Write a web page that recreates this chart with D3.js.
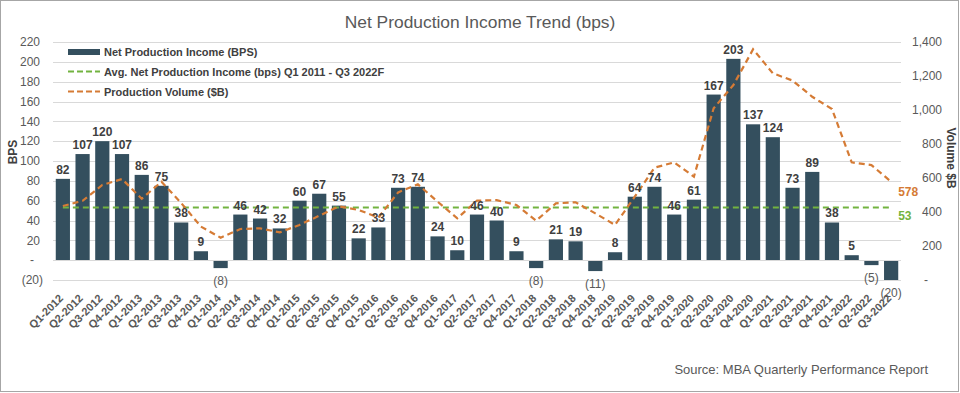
<!DOCTYPE html>
<html><head><meta charset="utf-8">
<script src="https://cdn.jsdelivr.net/npm/d3@7/dist/d3.min.js"></script>
<style>body{margin:0;background:#fff;}svg{display:block;font-family:Arial,"Liberation Sans",sans-serif;}</style>
</head><body><svg id="c" width="960" height="393"></svg>
<script>
const quarters = ["Q1-2012","Q2-2012","Q3-2012","Q4-2012","Q1-2013","Q2-2013","Q3-2013","Q4-2013","Q1-2014","Q2-2014","Q3-2014","Q4-2014","Q1-2015","Q2-2015","Q3-2015","Q4-2015","Q1-2016","Q2-2016","Q3-2016","Q4-2016","Q1-2017","Q2-2017","Q3-2017","Q4-2017","Q1-2018","Q2-2018","Q3-2018","Q4-2018","Q1-2019","Q2-2019","Q3-2019","Q4-2019","Q1-2020","Q2-2020","Q3-2020","Q4-2020","Q1-2021","Q2-2021","Q3-2021","Q4-2021","Q1-2022","Q2-2022","Q3-2022"];
const netIncome = [82,107,120,107,86,75,38,9,-8,46,42,32,60,67,55,22,33,73,74,24,10,46,40,9,-8,21,19,-11,8,64,74,46,61,167,203,137,124,73,89,38,5,-5,-20];
const volume = [435,466,559,594,478,578,453,314,249,300,304,280,324,378,433,412,367,515,563,461,363,467,470,441,349,451,457,392,324,490,661,692,608,1010,1147,1357,1216,1173,1078,1006,692,676,578];
const avgIncome = 53;
const leftTicks = [-20,0,20,40,60,80,100,120,140,160,180,200,220];
const rightTicks = [0,200,400,600,800,1000,1200,1400];
const legendLabels = ["Net Production Income (BPS)","Avg. Net Production Income (bps) Q1 2011 - Q3 2022F","Production Volume ($B)"];
const titleText = "Net Production Income Trend (bps)";
const sourceText = "Source: MBA Quarterly Performance Report";

const svg = d3.select("#c");
const barColor = "#344f5e", orange = "#d57b35", green = "#72b340", txt = "#404040", tick = "#595959";
svg.append("rect").attr("x",0.5).attr("y",0.5).attr("width",958).attr("height",391).attr("fill","#fff").attr("stroke","#a6a6a6");

const x = d3.scaleBand().domain(quarters).range([53,901]).paddingInner(0.28).paddingOuter(0.14);
const yL = d3.scaleLinear().domain([-20,220]).range([280,42]);
const yR = d3.scaleLinear().domain([0,1400]).range([280,42]);
const cx = d => x(d) + x.bandwidth()/2;

// gridlines
svg.append("g").selectAll("line").data(leftTicks).join("line")
  .attr("x1",53).attr("x2",901).attr("y1",d=>Math.round(yL(d))+0.5).attr("y2",d=>Math.round(yL(d))+0.5)
  .attr("stroke","#d9d9d9").attr("stroke-width",1);

// left axis
const fmtL = d => d===0 ? "-" : d<0 ? "("+(-d)+")" : String(d);
svg.append("g").selectAll("text").data(leftTicks).join("text")
  .attr("x",d=> d===0?34:(d<0?43:40)).attr("y",d=>yL(d)).attr("dy","0.35em")
  .attr("text-anchor","end").attr("font-size",12).attr("fill",tick).text(fmtL);
// right axis
const fmtR = d => d===0 ? "-" : d3.format(",")(d);
svg.append("g").selectAll("text").data(rightTicks).join("text")
  .attr("x",d=> d===0?928:942).attr("y",d=>yR(d)).attr("dy","0.35em")
  .attr("text-anchor","end").attr("font-size",12).attr("fill",tick).text(fmtR);

// axis titles
svg.append("text").attr("transform","translate(17,152) rotate(-90)").attr("text-anchor","middle")
  .attr("font-size",12).attr("font-weight","bold").attr("fill",txt).text("BPS");
svg.append("text").attr("transform","translate(947,158) rotate(90)").attr("text-anchor","middle")
  .attr("font-size",12).attr("font-weight","bold").attr("fill",txt).text("Volume $B");

// bars
svg.append("g").selectAll("rect").data(netIncome).join("rect")
  .attr("x",(d,i)=>x(quarters[i])).attr("width",x.bandwidth())
  .attr("y",d=>yL(Math.max(0,d))).attr("height",d=>Math.abs(yL(d)-yL(0)))
  .attr("fill",barColor);
// zero line
svg.append("line").attr("x1",53).attr("x2",901).attr("y1",Math.round(yL(0))+0.5).attr("y2",Math.round(yL(0))+0.5).attr("stroke","#d9d9d9");

// avg line
svg.append("line").attr("x1",cx(quarters[0])).attr("x2",cx(quarters[quarters.length-1]))
  .attr("y1",yL(avgIncome)).attr("y2",yL(avgIncome)).attr("stroke",green).attr("stroke-width",2).attr("stroke-dasharray","6,4");

// volume line
const line = d3.line().x((d,i)=>cx(quarters[i])).y(d=>yR(d));
svg.append("path").datum(volume).attr("d",line).attr("fill","none").attr("stroke",orange)
  .attr("stroke-width",2.2).attr("stroke-dasharray","6,4");

// bar labels
svg.append("g").selectAll("text").data(netIncome).join("text")
  .attr("x",(d,i)=>cx(quarters[i]))
  .attr("y",d=> d>=0 ? yL(d)-5 : yL(d)+17)
  .attr("text-anchor","middle").attr("font-size",12)
  .attr("font-weight",d=>d>=0?"bold":"normal")
  .attr("fill",d=>d>=0?txt:tick)
  .text(d=> d<0 ? "("+(-d)+")" : d);

// end labels
const last = quarters[quarters.length-1];
svg.append("text").attr("x",cx(last)+7).attr("y",yR(volume[volume.length-1])+14).attr("font-size",12).attr("font-weight","bold").attr("fill",orange).text(volume[volume.length-1]);
svg.append("text").attr("x",cx(last)+7).attr("y",yL(avgIncome)+12).attr("font-size",12).attr("font-weight","bold").attr("fill",green).text(avgIncome);

// x labels
svg.append("g").selectAll("text").data(quarters).join("text")
  .attr("transform",d=>`translate(${cx(d)+1},299) rotate(-45)`)
  .attr("text-anchor","end").attr("font-size",11).attr("font-weight","bold").attr("fill",tick).text(d=>d);

// legend
const lg = svg.append("g");
lg.append("rect").attr("x",68).attr("y",49).attr("width",32).attr("height",6).attr("fill",barColor);
lg.append("line").attr("x1",68).attr("x2",100).attr("y1",71.5).attr("y2",71.5).attr("stroke",green).attr("stroke-width",2).attr("stroke-dasharray","6,3");
lg.append("line").attr("x1",68).attr("x2",100).attr("y1",91.5).attr("y2",91.5).attr("stroke",orange).attr("stroke-width",2).attr("stroke-dasharray","6,3");
lg.selectAll("text").data(legendLabels).join("text").attr("x",104).attr("y",(d,i)=>52+i*20).attr("dy","0.35em")
  .attr("font-size",11).attr("font-weight","bold").attr("fill",txt).text(d=>d);

// title & source
svg.append("text").attr("x",480).attr("y",28).attr("text-anchor","middle").attr("font-size",17.4).attr("fill",tick).text(titleText);
svg.append("text").attr("x",928).attr("y",374).attr("text-anchor","end").attr("font-size",13).attr("fill",tick).text(sourceText);
</script></body></html>
